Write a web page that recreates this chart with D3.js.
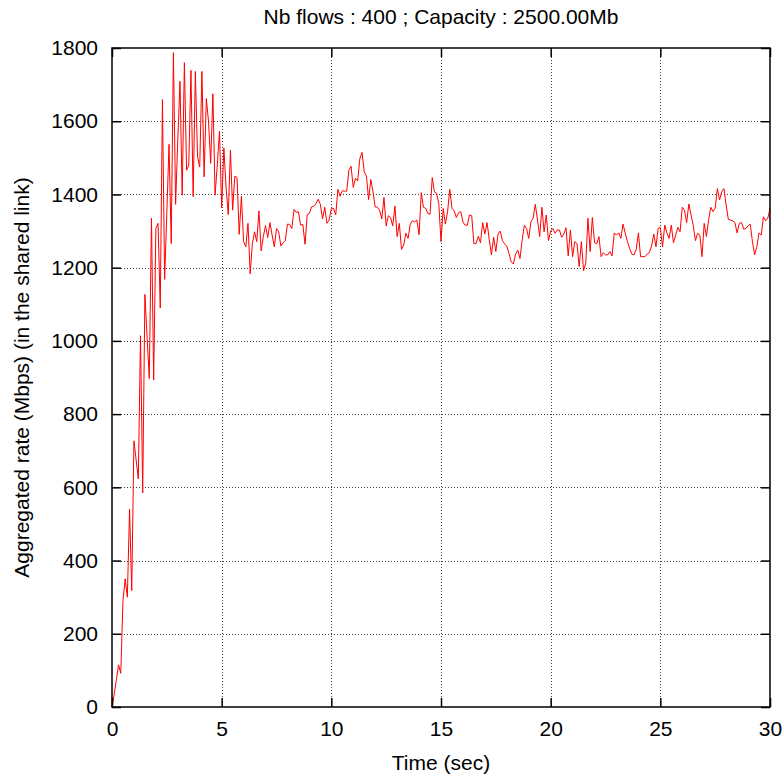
<!DOCTYPE html>
<html><head><meta charset="utf-8">
<script src="https://cdn.jsdelivr.net/npm/d3@7"></script>
<style>body{margin:0;background:#fff}svg{display:block}</style>
</head><body><svg id="c" width="784" height="776"></svg>
<script>
const title = "Nb flows : 400 ; Capacity : 2500.00Mb";
const xLabel = "Time (sec)";
const yLabel = "Aggregated rate (Mbps) (in the shared link)";
const xTicks = [0, 5, 10, 15, 20, 25, 30];
const yTicks = [0, 200, 400, 600, 800, 1000, 1200, 1400, 1600, 1800];
const sampleStep = 0.1; // seconds between samples
const rate = [
  0, 35, 75, 115, 92, 290, 350, 300, 540, 318,
  727, 675, 623, 1014, 585, 1127, 1010, 897, 1335, 893,
  1307, 1321, 1090, 1659, 1168, 1350, 1537, 1266, 1787, 1373,
  1550, 1709, 1398, 1760, 1466, 1480, 1739, 1394, 1736, 1503,
  1475, 1736, 1448, 1662, 1600, 1485, 1675, 1398, 1480, 1573,
  1364, 1527, 1420, 1345, 1521, 1357, 1450, 1446, 1291, 1395,
  1271, 1257, 1321, 1183, 1266, 1298, 1271, 1355, 1246, 1285,
  1315, 1282, 1323, 1289, 1257, 1307, 1298, 1259, 1268, 1274,
  1319, 1318, 1307, 1359, 1351, 1353, 1316, 1318, 1264, 1345,
  1348, 1366, 1368, 1375, 1387, 1373, 1333, 1365, 1321, 1330,
  1362, 1362, 1344, 1414, 1395, 1410, 1409, 1409, 1466, 1477,
  1419, 1444, 1437, 1498, 1515, 1462, 1450, 1386, 1441, 1407,
  1366, 1365, 1357, 1333, 1392, 1314, 1342, 1337, 1314, 1368,
  1285, 1321, 1250, 1262, 1294, 1280, 1319, 1328, 1325, 1330,
  1290, 1405, 1365, 1362, 1348, 1346, 1446, 1407, 1403, 1375,
  1271, 1362, 1319, 1353, 1414, 1362, 1355, 1337, 1350, 1353,
  1325, 1316, 1316, 1344, 1342, 1265, 1266, 1286, 1268, 1323,
  1292, 1323, 1277, 1235, 1283, 1244, 1292, 1300, 1274, 1265,
  1259, 1239, 1216, 1210, 1237, 1248, 1225, 1275, 1316, 1307,
  1280, 1325, 1335, 1373, 1330, 1285, 1365, 1298, 1344, 1274,
  1300, 1307, 1294, 1303, 1303, 1283, 1292, 1309, 1232, 1303,
  1230, 1271, 1266, 1203, 1271, 1192, 1212, 1335, 1244, 1337,
  1268, 1265, 1285, 1230, 1241, 1235, 1235, 1244, 1232, 1295,
  1289, 1295, 1280, 1319, 1294, 1271, 1253, 1237, 1235, 1250,
  1295, 1230, 1230, 1230, 1237, 1241, 1259, 1292, 1257, 1307,
  1310, 1257, 1316, 1295, 1280, 1316, 1268, 1289, 1310, 1298,
  1365, 1357, 1323, 1374, 1344, 1316, 1274, 1294, 1289, 1230,
  1321, 1285, 1330, 1365, 1353, 1362, 1416, 1385, 1407, 1416,
  1371, 1332, 1330, 1328, 1323, 1295, 1321, 1323, 1305, 1307,
  1314, 1319, 1271, 1235, 1257, 1295, 1289, 1339, 1328, 1335,
  1362
];

const svg = d3.select("#c");
const L = 112, R = 770, T = 48, B = 707;
const x = d3.scaleLinear().domain([0, 30]).range([L, R]);
const y = d3.scaleLinear().domain([0, 1800]).range([B, T]);
const font = "'Liberation Sans', Arial, sans-serif";
const fs = 21;
const tickLen = 9;

// grid
const grid = svg.append("g").attr("stroke", "#000").attr("stroke-width", 1)
  .attr("stroke-dasharray", "1,2").attr("opacity", 0.75);
yTicks.filter(v => v > 0 && v < 1800).forEach(v => {
  const yy = Math.round(y(v)) + 0.5;
  grid.append("line").attr("x1", L).attr("x2", R).attr("y1", yy).attr("y2", yy);
});
xTicks.filter(v => v > 0 && v < 30).forEach(v => {
  const xx = Math.round(x(v)) + 0.5;
  grid.append("line").attr("x1", xx).attr("x2", xx).attr("y1", T).attr("y2", B);
});

// data line
const line = d3.line().x((d, i) => x(i * sampleStep)).y(d => y(d));
svg.append("path").datum(rate).attr("d", line)
  .attr("fill", "none").attr("stroke", "#ff0000").attr("stroke-width", 1)
  .attr("stroke-linejoin", "miter");

// axes with inward ticks (mirrored)
const axL = d3.axisLeft(y).tickValues(yTicks).tickSize(-tickLen).tickPadding(14).tickFormat(d3.format("d"));
const axR = d3.axisRight(y).tickValues(yTicks).tickSize(-tickLen).tickFormat("");
const axB = d3.axisBottom(x).tickValues(xTicks).tickSize(-tickLen).tickPadding(14).tickFormat(d3.format("d"));
const axT = d3.axisTop(x).tickValues(xTicks).tickSize(-tickLen).tickFormat("");

function style(g) {
  g.select(".domain").remove();
  g.selectAll(".tick line").attr("stroke", "#000").attr("stroke-width", 1.5);
  g.selectAll(".tick text").attr("font-family", font).attr("font-size", fs).attr("fill", "#000");
}
svg.append("g").attr("transform", `translate(${L},0)`).call(axL).call(style);
svg.append("g").attr("transform", `translate(${R},0)`).call(axR).call(style);
svg.append("g").attr("transform", `translate(0,${B})`).call(axB).call(style);
svg.append("g").attr("transform", `translate(0,${T})`).call(axT).call(style);

// frame
svg.append("rect").attr("x", L).attr("y", T).attr("width", R - L).attr("height", B - T)
  .attr("fill", "none").attr("stroke", "#000").attr("stroke-width", 1.5);

// texts
svg.append("text").attr("x", 441).attr("y", 24).attr("text-anchor", "middle")
  .attr("font-family", font).attr("font-size", fs).text(title);
svg.append("text").attr("x", 441).attr("y", 770).attr("text-anchor", "middle")
  .attr("font-family", font).attr("font-size", fs).text(xLabel);
svg.append("text").attr("transform", `translate(29,${(T + B) / 2}) rotate(-90)`)
  .attr("text-anchor", "middle").attr("font-family", font).attr("font-size", fs).text(yLabel);
</script></body></html>
